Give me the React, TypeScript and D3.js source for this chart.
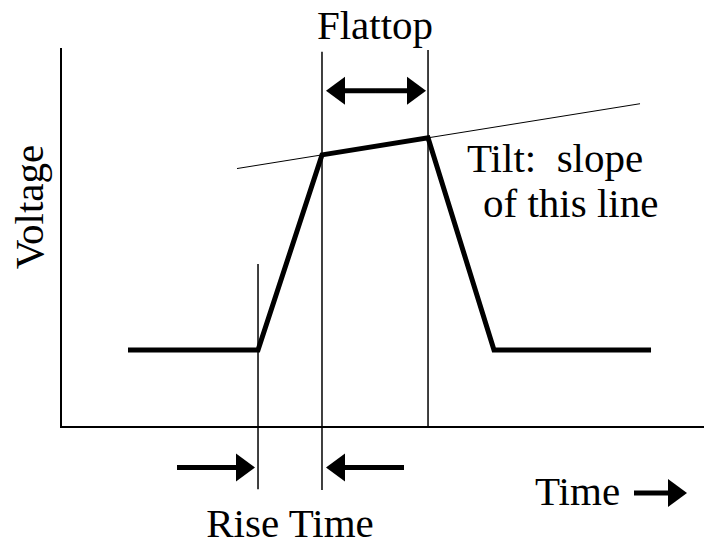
import React from "react";
import * as d3 from "d3";

// Pulse waveform (time in arbitrary units 0..100, voltage 0..10)
const pulseTime = [10.42, 30.64, 40.59, 57.08, 67.34, 91.76];
const pulseVoltage = [2.03, 2.03, 7.18, 7.63, 2.03, 2.03];

// Tilt reference line (extends the flattop)
const tiltTime = [27.37, 90.05];

// Vertical marker lines: [time, vFrom, vTo]
const markerTime = [30.64, 40.59, 57.08];
const markerTop = [4.3, 9.9, 9.95];
const markerBottom = [-1.64, -1.66, 0];

// Annotation labels
const labels = ["Flattop", "Rise Time", "Voltage", "Tilt:  slope", "of this line", "Time"];

const W = 704;
const H = 550;

export default function App() {
  const x = d3.scaleLinear().domain([0, 100]).range([61, 704]);
  const y = d3.scaleLinear().domain([0, 10]).range([427, 48]);

  const pulse = pulseTime.map((t, i) => [x(t), y(pulseVoltage[i])] as [number, number]);
  const line = d3.line();

  const slope = (pulseVoltage[3] - pulseVoltage[2]) / (pulseTime[3] - pulseTime[2]);
  const tiltV = tiltTime.map((t) => pulseVoltage[2] + slope * (t - pulseTime[2]));

  const font = "'Liberation Serif', 'Times New Roman', serif";

  const arrow = (tailX: number, tipX: number, yy: number, key: string) => {
    const dir = Math.sign(tipX - tailX);
    const hl = 19;
    const hw = 14;
    const baseX = tipX - dir * hl;
    return (
      <g key={key}>
        <line x1={tailX} x2={baseX + dir * 1} y1={yy} y2={yy} stroke="#000" strokeWidth={5} />
        <polygon points={`${tipX},${yy} ${baseX},${yy - hw} ${baseX},${yy + hw}`} fill="#000" />
      </g>
    );
  };

  const flatY = y(8.87);
  const flatMid = (x(markerTime[1]) + x(markerTime[2])) / 2;
  const riseY = y(-1.07);
  const timeY = y(-1.74);

  return (
    <div style={{ position: "fixed", left: 0, top: 0, width: W, height: H, background: "#fff" }}>
      <svg width={W} height={H} viewBox={`0 0 ${W} ${H}`} style={{ display: "block" }}>
        <rect width={W} height={H} fill="#fff" />
        {/* axes */}
        <line x1={x(0)} x2={x(0)} y1={y(10)} y2={y(0) + 1} stroke="#000" strokeWidth={2} />
        <line x1={x(0)} x2={x(100)} y1={y(0)} y2={y(0)} stroke="#000" strokeWidth={2} />

        {/* marker verticals */}
        {markerTime.map((t, i) => (
          <line
            key={"m" + i}
            x1={x(t)}
            x2={x(t)}
            y1={y(markerTop[i])}
            y2={y(markerBottom[i])}
            stroke="#000"
            strokeWidth={1.5}
          />
        ))}

        {/* tilt line */}
        <line
          x1={x(tiltTime[0])}
          y1={y(tiltV[0])}
          x2={x(tiltTime[1])}
          y2={y(tiltV[1])}
          stroke="#000"
          strokeWidth={1}
        />

        {/* pulse */}
        <path d={line(pulse) || ""} fill="none" stroke="#000" strokeWidth={5} strokeLinejoin="miter" />

        {/* flattop double arrow */}
        {arrow(flatMid, x(markerTime[1]) + 4, flatY, "fa1")}
        {arrow(flatMid, x(markerTime[2]) - 2, flatY, "fa2")}

        {/* rise time arrows */}
        {arrow(177, x(markerTime[0]) - 3, riseY, "ra1")}
        {arrow(404, x(markerTime[1]) + 4, riseY, "ra2")}

        {/* time arrow */}
        {arrow(634, 687, timeY, "ta")}

        {/* labels */}
        <g fontFamily={font} fontSize={41} fill="#000">
          <text x={flatMid} y={39} textAnchor="middle">{labels[0]}</text>
          <text x={(x(markerTime[0]) + x(markerTime[1])) / 2} y={537} textAnchor="middle">{labels[1]}</text>
          <text transform="translate(43,207) rotate(-90)" textAnchor="middle">{labels[2]}</text>
          <text x={467} y={172} style={{ whiteSpace: "pre" }}>{labels[3]}</text>
          <text x={483} y={217}>{labels[4]}</text>
          <text x={535} y={505}>{labels[5]}</text>
        </g>
      </svg>
    </div>
  );
}
